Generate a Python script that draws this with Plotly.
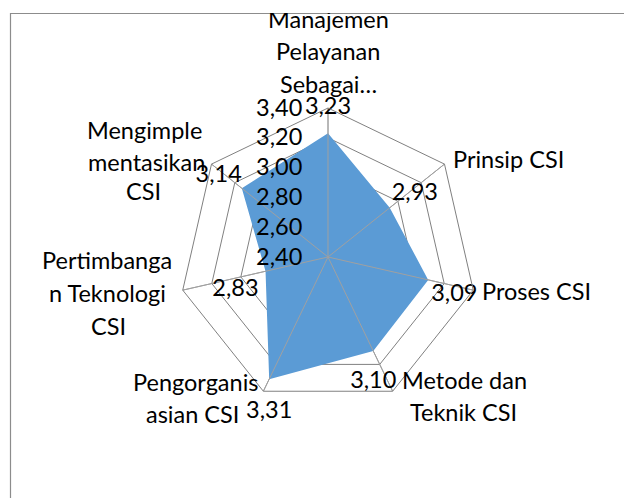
import plotly.graph_objects as go

# ---------------- data ----------------
categories = [
    "Manajemen Pelayanan Sebagai…",
    "Prinsip CSI",
    "Proses CSI",
    "Metode dan Teknik CSI",
    "Pengorganisasian CSI",
    "Pertimbangan Teknologi CSI",
    "Mengimplementasikan CSI",
]
scores = [3.23, 2.93, 3.09, 3.10, 3.31, 2.83, 3.14]
radial_ticks = [2.40, 2.60, 2.80, 3.00, 3.20, 3.40]
category_label_lines = [
    ["Manajemen", "Pelayanan", "Sebagai…"],
    ["Prinsip CSI"],
    ["Proses CSI"],
    ["Metode dan", "Teknik CSI"],
    ["Pengorganis", "asian CSI"],
    ["Pertimbanga", "n Teknologi", "CSI"],
    ["Mengimple", "mentasikan", "CSI"],
]

# ---------------- style / layout ----------------
OFF = 8                      # page body margin of the html page
W, H = 632 - OFF, 498 - OFF  # figure size so that it fills the window
FONT = "Lato"
FS = 23.5
BLUE = "#5b9bd5"
GRID = "#808080"
SPOKE = "#a0a0a0"


def px(x):
    return (x - OFF) / W


def py(y):
    return 1 - (y - OFF) / H


cx, cy, R = 328, 257, 149  # polar centre and radius (window pixels)

label_pos = [
    [(328, 19, "center"), (328, 51, "center"), (328, 84, "center")],
    [(451, 159, "left")],
    [(480, 291, "left")],
    [(464.5, 380, "center"), (463.5, 412, "center")],
    [(195, 382, "center"), (192, 414, "center")],
    [(107, 260, "center"), (107.5, 293, "center"), (108, 326, "center")],
    [(144, 130, "center"), (146, 162, "center"), (143, 191, "center")],
]
value_text_pos = ["top center", "top right", "bottom right", "bottom center",
                  "bottom center", "bottom left", "top left"]
value_text_offset = [13, 2, 3, 19, 21, 7, 0]
offset_marker_size = [max(0, 1.6 * (o - 1)) for o in value_text_offset]

rmin, rmax = radial_ticks[0], radial_ticks[-1]

fig = go.Figure()

# filled series
fig.add_trace(go.Scatterpolar(
    r=scores + [scores[0]],
    theta=categories + [categories[0]],
    mode="lines",
    fill="toself",
    fillcolor=BLUE,
    line=dict(color=BLUE, width=0),
    hoverinfo="skip",
))

# spokes drawn above the fill
sp_r, sp_t = [], []
for c in categories:
    sp_r += [rmin, rmax, None]
    sp_t += [c, c, None]
fig.add_trace(go.Scatterpolar(
    r=sp_r, theta=sp_t, mode="lines",
    line=dict(color=SPOKE, width=1),
    connectgaps=False, hoverinfo="skip",
))

# data labels
fig.add_trace(go.Scatterpolar(
    r=scores,
    theta=categories,
    mode="markers+text",
    marker=dict(size=offset_marker_size, color="rgba(0,0,0,0)",
                line=dict(width=0, color="rgba(0,0,0,0)")),
    text=[f"{v:.2f}".replace(".", ",") for v in scores],
    textposition=value_text_pos,
    textfont=dict(family=FONT, size=FS, color="black"),
    hoverinfo="skip",
))

annotations = []
for lines, poss in zip(category_label_lines, label_pos):
    for txt, (x, y, al) in zip(lines, poss):
        annotations.append(dict(
            text=txt, x=px(x), y=py(y), xref="paper", yref="paper",
            xanchor=al, yanchor="middle", showarrow=False,
            font=dict(family=FONT, size=FS, color="black"),
        ))
# white strip above the chart frame (clips the top label)
annotations.append(dict(
    text=" ", x=0.5, y=1, xref="paper", yref="paper", xanchor="center",
    yanchor="top", showarrow=False, width=W + 20, height=4.5, borderpad=0,
    borderwidth=0, bgcolor="white", font=dict(size=2),
))

fig.update_layout(
    width=W, height=H,
    margin=dict(l=0, r=0, t=0, b=0),
    paper_bgcolor="white",
    plot_bgcolor="white",
    showlegend=False,
    separators=",.",
    font=dict(family=FONT, size=FS, color="black"),
    polar=dict(
        domain=dict(x=[px(cx - R), px(cx + R)],
                    y=[py(cy + R), py(cy - R)]),
        bgcolor="white",
        gridshape="linear",
        angularaxis=dict(
            type="category", categoryarray=categories,
            direction="clockwise", rotation=90,
            showticklabels=False, ticks="",
            showgrid=True, gridcolor=SPOKE, gridwidth=1,
            showline=True, linecolor=GRID, linewidth=1,
        ),
        radialaxis=dict(
            range=[rmin, rmax], tickvals=radial_ticks, tickformat=".2f",
            angle=90, side="counterclockwise", tickangle=90,
            showline=False, showgrid=True, gridcolor=GRID, gridwidth=1,
            ticks="outside", ticklen=17, tickcolor="rgba(0,0,0,0)",
            tickfont=dict(family=FONT, size=FS, color="black"),
        ),
    ),
    shapes=[dict(
        type="rect", xref="paper", yref="paper",
        x0=px(10.5), x1=1.05, y0=-0.05, y1=py(13.5),
        line=dict(color="#8c8c8c", width=1.2), fillcolor="rgba(0,0,0,0)",
        layer="above",
    )],
    annotations=annotations,
)

fig.write_html("out.html")
